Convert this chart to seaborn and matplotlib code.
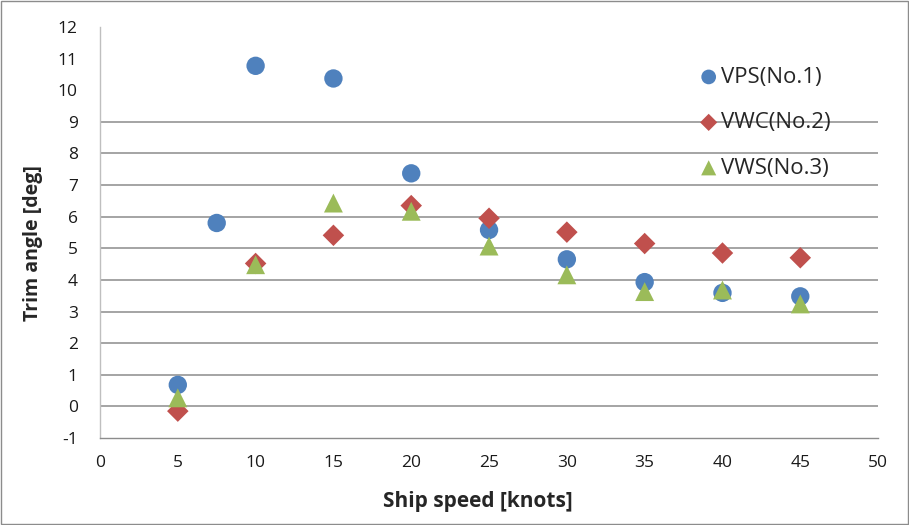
import matplotlib
matplotlib.use("Agg")
import matplotlib.pyplot as plt
import pandas as pd
import seaborn as sns

# data
speed_vps = [5, 7.5, 10, 15, 20, 25, 30, 35, 40, 45]
trim_vps = [0.68, 5.8, 10.77, 10.37, 7.37, 5.58, 4.65, 3.93, 3.59, 3.48]

speed_vwc = [5, 10, 15, 20, 25, 30, 35, 40, 45]
trim_vwc = [-0.15, 4.52, 5.41, 6.35, 5.95, 5.51, 5.15, 4.85, 4.7]

speed_vws = [5, 10, 15, 20, 25, 30, 35, 40, 45]
trim_vws = [0.27, 4.48, 6.43, 6.17, 5.07, 4.16, 3.63, 3.68, 3.24]

series = ["VPS(No.1)", "VWC(No.2)", "VWS(No.3)"]
colors = ["#4F81BD", "#C0504D", "#9BBB59"]
markers = ["o", "D", "^"]

x_ticks = list(range(0, 55, 5))
y_ticks = list(range(-1, 13))
grid_levels = list(range(0, 10))

df = pd.concat([
    pd.DataFrame({"speed": speed_vps, "trim": trim_vps, "model": series[0]}),
    pd.DataFrame({"speed": speed_vwc, "trim": trim_vwc, "model": series[1]}),
    pd.DataFrame({"speed": speed_vws, "trim": trim_vws, "model": series[2]}),
])

sns.set_theme(style="white")
plt.rcParams["font.family"] = ["Open Sans", "DejaVu Sans"]
plt.rcParams["axes.unicode_minus"] = False

fig = plt.figure(figsize=(9.09, 5.25), dpi=100)
ax = fig.add_axes([0.110, 0.1657, 0.856, 0.783])

# horizontal gridlines (only up to 9, as in the reference)
ax.hlines(grid_levels, 0, 50, colors="#8C8C8C", linewidth=1.1, zorder=1)

sizes = {series[0]: 175, series[1]: 120, series[2]: 185}
for name, col, mk in zip(series, colors, markers):
    sub = df[df["model"] == name]
    sns.scatterplot(data=sub, x="speed", y="trim", color=col, marker=mk,
                    s=sizes[name], edgecolor="none", ax=ax, zorder=3,
                    label=name)

ax.set_xlim(0, 50)
ax.set_ylim(-1, 12)
ax.set_xticks(x_ticks)
ax.set_yticks(y_ticks)
ax.tick_params(axis="both", length=0, labelsize=12.5, colors="#1a1a1a")
ax.tick_params(axis="x", pad=12)
ax.tick_params(axis="y", pad=16)

ax.set_xlabel("Ship speed [knots]", fontsize=15, fontweight="bold")
ax.set_ylabel("Trim angle [deg]", fontsize=14, fontweight="bold")
ax.xaxis.set_label_coords(0.486, -0.128)
ax.yaxis.set_label_coords(-0.073, 0.474)

for side in ["top", "right"]:
    ax.spines[side].set_visible(False)
ax.spines["left"].set_color("#BFBFBF")
ax.spines["bottom"].set_color("#8C8C8C")
ax.spines["left"].set_linewidth(1.0)
ax.spines["bottom"].set_linewidth(1.0)

leg = ax.legend(loc="center left", bbox_to_anchor=(0.768, 0.767), frameon=False,
                fontsize=16, labelspacing=1.1, handletextpad=0.05,
                handlelength=1.0, borderpad=0, borderaxespad=0,
                markerscale=0.8)

# thin chart border around the whole picture
fig.patches.append(plt.Rectangle((0.001, 0.001), 0.998, 0.997, transform=fig.transFigure,
                                 fill=False, edgecolor="#8C8C8C", linewidth=1.0))

fig.savefig("out.png", dpi=100)
